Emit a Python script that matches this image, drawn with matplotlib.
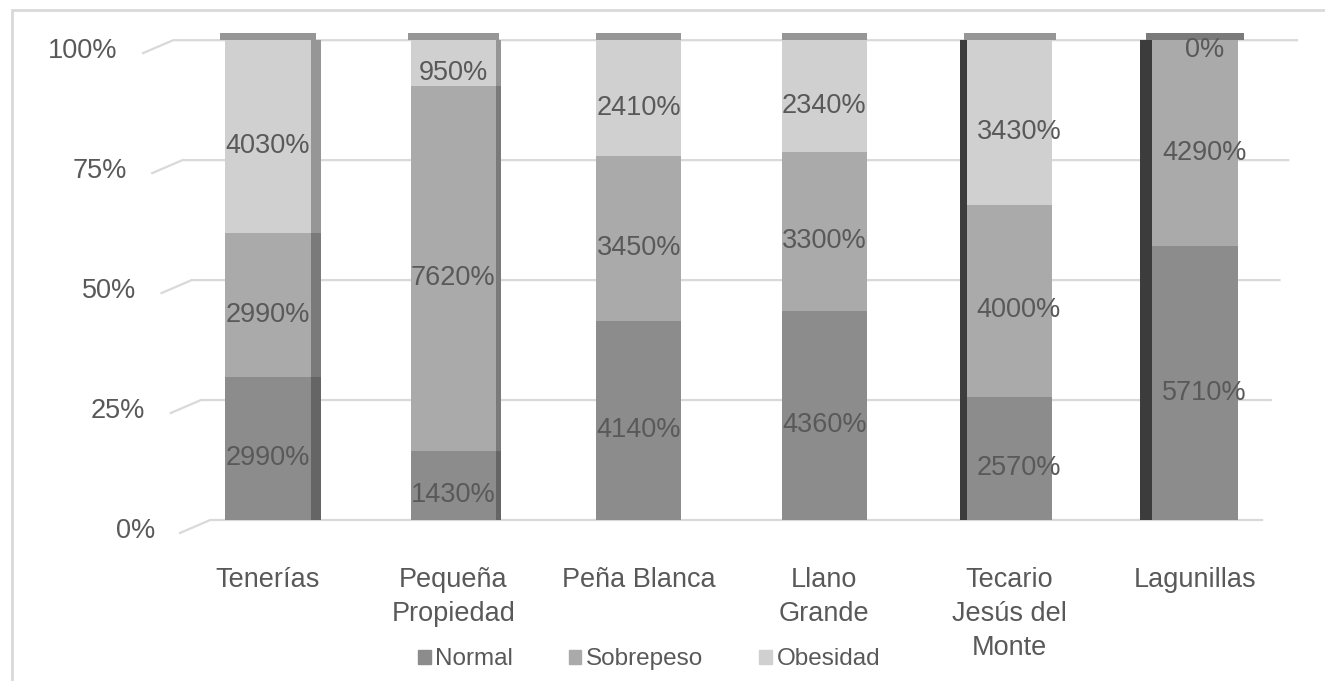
import matplotlib.pyplot as plt
import matplotlib.transforms as mtransforms
from matplotlib.patches import Patch, Rectangle
import numpy as np

# porcentaje por localidad (Normal / Sobrepeso / Obesidad)
localidades = ['Tenerías', 'Pequeña\nPropiedad', 'Peña Blanca', 'Llano\nGrande',
               'Tecario\nJesús del\nMonte', 'Lagunillas']
normal = [29.9, 14.3, 41.4, 43.6, 25.7, 57.1]
sobrepeso = [29.9, 76.2, 34.5, 33.0, 40.0, 42.9]
obesidad = [40.3, 9.5, 24.1, 23.4, 34.3, 0.0]
series = ['Normal', 'Sobrepeso', 'Obesidad']
ticks = [0, 25, 50, 75, 100]

colores = ['#8c8c8c', '#aaaaaa', '#d0d0d0']
texto = '#595959'
plt.rcParams['font.family'] = ['Liberation Sans', 'DejaVu Sans']

W, H = 1325, 681
fig = plt.figure(figsize=(W / 100, H / 100), dpi=100)
ax = fig.add_axes([140 / W, (H - 520) / H, 1160 / W, (520 - 33) / H])
ax.set_xlim(-0.69, 5.566)
ax.set_ylim(0, 101.5)
ax.axis('off')

# marco exterior
fig.add_artist(Rectangle((12 / W, -0.1), 1.2, (H - 10) / H + 0.1,
                         transform=fig.transFigure, fill=False,
                         edgecolor='#d9d9d9', lw=2))

x = np.arange(len(localidades))
ancho = 0.46
blend = mtransforms.blended_transform_factory(ax.transAxes, ax.transData)

# lineas de cuadricula con su pequeño quiebre a la izquierda
for t in ticks:
    xl = (143 + (100 - t) / 100 * 37 - 140) / 1160
    xr = (1297 - (100 - t) / 100 * 35 - 140) / 1160
    ax.plot([xl, xl + 0.026, xr], [t - 2.7, t, t], transform=blend,
            color='#d9d9d9', lw=1.6, zorder=0, clip_on=False)
    xt = (117 + (100 - t) / 100 * 38 - 140) / 1160
    ax.annotate(f'{t}%', xy=(xt, t), xycoords=blend, xytext=(0, -8),
                textcoords='offset points', ha='right', va='center',
                fontsize=19.5, color=texto, annotation_clip=False)

def oscuro(c, f):
    r, g, b = [int(c[i:i + 2], 16) / 255 for i in (1, 3, 5)]
    return (r * f, g * f, b * f)

# caras laterales: derecha para las primeras barras, izquierda para las ultimas
lado = [1, 1, 0, 0, -1, -1]
grosor = [0.055, 0.028, 0, 0, 0.035, 0.065]

base = np.zeros(len(x))
for nombre, vals, col in zip(series, [normal, sobrepeso, obesidad], colores):
    vals = np.array(vals)
    ax.bar(x, vals, ancho, bottom=base, color=col, zorder=2, label=nombre)
    for i in range(len(x)):
        if grosor[i] == 0 or vals[i] == 0:
            continue
        if lado[i] > 0:
            cx = x[i] + ancho / 2 + grosor[i] / 2
            cc = oscuro(col, 0.72)
        else:
            cx = x[i] - ancho / 2 - grosor[i] / 2
            cc = '#3c3c3c'
        ax.bar(cx, vals[i], grosor[i], bottom=base[i], color=cc, zorder=2)
    for i in range(len(x)):
        ax.annotate(f'{vals[i] * 100:.0f}%',
                    xy=(x[i] + 0.05 * (lado[i] < 0), base[i] + vals[i] / 2),
                    xytext=(0, -7), textcoords='offset points',
                    ha='center', va='center', fontsize=19.5, color=texto,
                    zorder=4, annotation_clip=False)
    base = base + vals

# cara superior de cada barra
tope = [colores[2] if o > 0 else colores[1] for o in obesidad]
for i in range(len(x)):
    ax.bar(x[i], 1.4, ancho + grosor[i], bottom=min(base[i], 100),
           color=oscuro(tope[i], 0.72), zorder=3)

# nombres de las localidades
for i, nom in enumerate(localidades):
    ax.annotate(nom, xy=(x[i], 0), xytext=(0, -34), textcoords='offset points',
                ha='center', va='top', fontsize=19.5, color=texto,
                linespacing=1.4, annotation_clip=False)

handles = [Patch(color=c, label=s) for s, c in zip(series, colores)]
fig.legend(handles=handles, loc='center', bbox_to_anchor=(0.49, 0.032),
           ncol=3, frameon=False, handlelength=0.5, handleheight=0.5,
           handletextpad=0.2, columnspacing=2.3, fontsize=17.5,
           labelcolor=texto)

fig.savefig('out.png', dpi=100)
